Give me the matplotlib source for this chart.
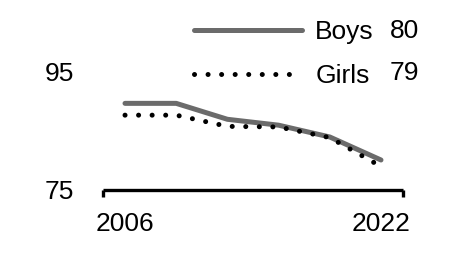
import matplotlib
matplotlib.use("Agg")
import matplotlib.pyplot as plt
from matplotlib.lines import Line2D

years = ["2006", "2009", "2012", "2015", "2018", "2022"]
boys = [89.6, 89.6, 86.9, 85.9, 83.9, 80.0]
girls = [87.6, 87.6, 85.7, 85.6, 83.8, 78.9]
series_names = ["Boys", "Girls"]
end_labels = ["80", "79"]
ytick_vals = [75, 95]

plt.rcParams['font.family'] = ['Liberation Sans', 'DejaVu Sans']
FS = 19

fig = plt.figure(figsize=(4.51, 2.68), dpi=100)
ax = fig.add_axes([103/451, (268-189.5)/268, 300/451, 118/268])

x = list(range(len(years)))
boys_style = dict(color="#6b6b6b", lw=3.6, solid_capstyle="round")
girls_style = dict(color="black", lw=3.6, linestyle=(0, (0.01, 2.7)), dash_capstyle="round")
ax.plot(x, boys, **boys_style)
ax.plot(x, girls, **girls_style)

ax.set_xlim(-0.43, len(years) - 1 + 0.43)
ax.set_ylim(75, 95)
for s in ["top", "right", "left"]:
    ax.spines[s].set_visible(False)
ax.spines["bottom"].set_linewidth(2.4)
ax.spines["bottom"].set_capstyle("butt")

ax.set_xticks([0, len(years) - 1])
ax.set_xticklabels([years[0], years[-1]], fontsize=FS)
ax.set_xticks([-0.43, len(years) - 1 + 0.43], minor=True)
ax.tick_params(axis="x", which="major", length=0, pad=16)
ax.tick_params(axis="x", which="minor", length=5, width=2.4, direction="out")
ax.set_yticks(ytick_vals)
ax.set_yticklabels([str(v) for v in ytick_vals], fontsize=FS)
ax.tick_params(axis="y", length=0, pad=21)

handles = [Line2D([], [], **boys_style), Line2D([], [], **girls_style)]
leg = fig.legend(handles, series_names, loc="upper left", bbox_to_anchor=(0.43, 0.925),
                 frameon=False, fontsize=FS, handlelength=4.1, handletextpad=0.5,
                 labelspacing=0.75, borderaxespad=0, borderpad=0)
for lab, yy in zip(end_labels, [31, 73]):
    fig.text(390/451, 1 - yy/268, lab, fontsize=FS, va="center", ha="left")

fig.savefig("out.png", dpi=100)
